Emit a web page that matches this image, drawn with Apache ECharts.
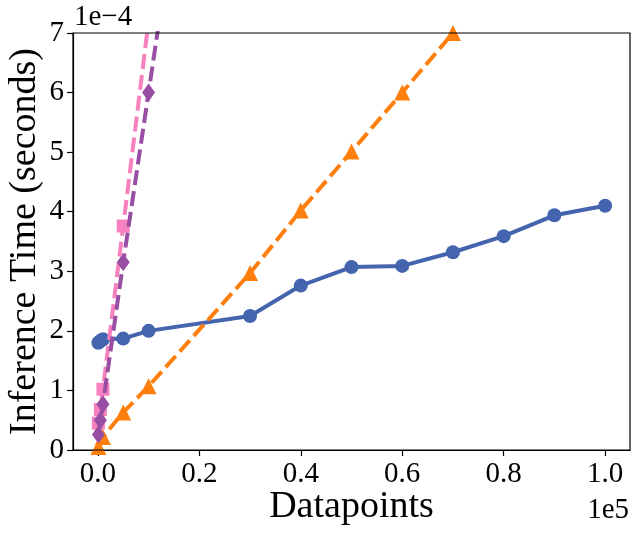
<!DOCTYPE html>
<html>
<head>
<meta charset="utf-8">
<script src="https://cdn.jsdelivr.net/npm/echarts@6/dist/echarts.min.js"></script>
<style>
html,body{margin:0;padding:0;background:#fff;}
#chart{width:639px;height:535px;}
</style>
</head>
<body>
<div id="chart"></div>
<script>
// x: number of datapoints; y: inference time in units of 1e-4 seconds
var blueX   = [100, 500, 1000, 5000, 10000, 30000, 40000, 50000, 60000, 70000, 80000, 90000, 100000];
var blueY   = [1.80, 1.83, 1.86, 1.87, 2.00, 2.25, 2.76, 3.07, 3.09, 3.32, 3.59, 3.94, 4.10];
var orangeX = [100, 1000, 5000, 10000, 30000, 40000, 50000, 60000, 70000];
var orangeY = [0.05, 0.22, 0.63, 1.07, 2.97, 4.02, 5.01, 6.00, 7.00];
var pinkX   = [100, 500, 1000, 5000, 10000];
var pinkY   = [0.45, 0.68, 1.02, 3.76, 7.20];
var purpleX = [100, 500, 1000, 5000, 10000, 30000];
var purpleY = [0.26, 0.50, 0.77, 3.15, 6.00, 17.5];
var xTicks  = [0, 20000, 40000, 60000, 80000, 100000];
var yTicks  = [0, 1, 2, 3, 4, 5, 6, 7];

function pairs(xs, ys){ return xs.map(function(x,i){ return [x, ys[i]]; }); }

var FONT = '"Liberation Serif", "DejaVu Serif", serif';
var chart = echarts.init(document.getElementById('chart'), null, {renderer:'canvas'});
chart.setOption({
  animation:false,
  backgroundColor:'#fff',
  grid:{left:73, right:9, top:33, bottom:85, containLabel:false, outerBoundsMode:'none'},
  xAxis:{
    type:'value', min:-4900, max:104900,
    axisLine:{show:true, onZero:false, lineStyle:{color:'#000', width:1.2}},
    axisTick:{show:true, length:6, lineStyle:{color:'#000', width:1.2}, customValues:xTicks},
    axisLabel:{fontFamily:FONT, fontSize:29, color:'#000', margin:10,
      customValues:xTicks,
      formatter:function(v){ return (v/100000).toFixed(1); }},
    splitLine:{show:false},
    name:'Datapoints', nameLocation:'middle', nameGap:38, nameMoveOverlap:false,
    nameTextStyle:{fontFamily:FONT, fontSize:38, color:'#000'}
  },
  yAxis:{
    type:'value', min:0, max:7, interval:1,
    axisLine:{show:true, onZero:false, lineStyle:{color:'#000', width:1.2}},
    axisTick:{show:true, length:6, lineStyle:{color:'#000', width:1.2}, customValues:yTicks},
    axisLabel:{fontFamily:FONT, fontSize:29, color:'#000', margin:9,
      customValues:yTicks, padding:[5,0,0,0],
      formatter:function(v){ return String(Math.round(v)); }},
    splitLine:{show:false},
    name:'Inference Time (seconds)', nameLocation:'middle', nameGap:29, nameRotate:90, nameMoveOverlap:false,
    nameTextStyle:{fontFamily:FONT, fontSize:38, color:'#000'}
  },
  graphic:[
    {type:'rect', shape:{x:73, y:33, width:557, height:417}, style:{fill:'none', stroke:'#000', lineWidth:1.2}, silent:true, z:100},
    {type:'text', x:74, y:32, style:{text:'1e\u22124', fontFamily:FONT, fontSize:29, fill:'#000', textAlign:'left', textVerticalAlign:'bottom'}},
    {type:'text', x:629, y:525, style:{text:'1e5', fontFamily:FONT, fontSize:29, fill:'#000', textAlign:'right', textVerticalAlign:'bottom'}}
  ],
  series:[
    {type:'line', name:'blue', data:pairs(blueX, blueY), symbol:'circle', symbolSize:14,
     lineStyle:{color:'#4464ae', width:4, type:'solid'}, itemStyle:{color:'#4464ae'}, clip:true, z:2},
    {type:'line', name:'orange', data:pairs(orangeX, orangeY), symbol:'triangle', symbolSize:16,
     lineStyle:{color:'#ff7f0e', width:4, type:[15,6]}, itemStyle:{color:'#ff7f0e'}, clip:true, z:3},
    {type:'line', name:'pink', data:pairs(pinkX, pinkY), symbol:'rect', symbolSize:13,
     lineStyle:{color:'#f781bf', width:4, type:[15,6]}, itemStyle:{color:'#f781bf'}, clip:true, z:4},
    {type:'line', name:'purple', data:pairs(purpleX, purpleY), symbol:'diamond', symbolSize:[13,18],
     lineStyle:{color:'#984ea3', width:4, type:[15,6]}, itemStyle:{color:'#984ea3'}, clip:true, z:5}
  ]
});
</script>
</body>
</html>
